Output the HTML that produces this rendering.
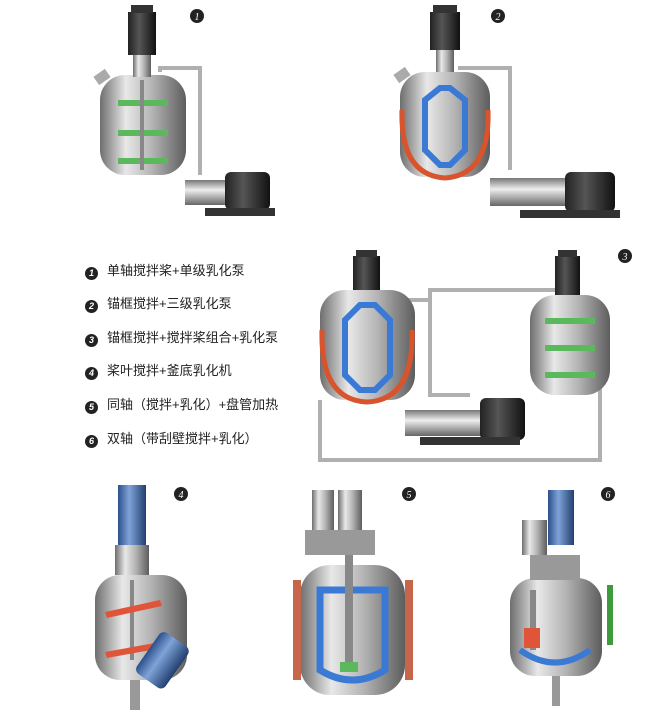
<!DOCTYPE html>
<html><head><meta charset="utf-8">
<style>
html,body{margin:0;padding:0;background:#fff;}
body{width:657px;height:727px;position:relative;overflow:hidden;font-family:"Liberation Sans","Noto Sans CJK SC",sans-serif;}
.lg{position:absolute;left:85px;font-size:13px;color:#222;height:16px;line-height:16px;}
.lg b{display:inline-block;width:13px;height:13px;border-radius:50%;background:#222;color:#fff;font-size:9px;font-style:italic;text-align:center;line-height:13px;margin-right:9px;vertical-align:-1px;}
</style></head><body>
<svg width="657" height="727" style="position:absolute;left:0;top:0">
<defs>
<linearGradient id="st" x1="0" x2="1"><stop offset="0" stop-color="#6e6e6e"/><stop offset=".3" stop-color="#e8e8e8"/><stop offset=".6" stop-color="#b5b5b5"/><stop offset="1" stop-color="#5d5d5d"/></linearGradient>
<linearGradient id="mt" x1="0" x2="1"><stop offset="0" stop-color="#222"/><stop offset=".4" stop-color="#555"/><stop offset="1" stop-color="#111"/></linearGradient>
<linearGradient id="bl" x1="0" x2="1"><stop offset="0" stop-color="#2b4f8a"/><stop offset=".4" stop-color="#7fa3d8"/><stop offset="1" stop-color="#223f70"/></linearGradient>
<linearGradient id="pp" y1="0" y2="1" x1="0" x2="0"><stop offset="0" stop-color="#777"/><stop offset=".4" stop-color="#eee"/><stop offset="1" stop-color="#666"/></linearGradient>
</defs>
<g fill="none" stroke="#b0b0b0" stroke-width="4">
<path d="M160 72 V68 H200 V175"/><path d="M460 70 V68 H510 V170"/>
<path d="M370 300 H430 V395 H470 M430 300 V290 H560 M320 400 V460 H600 V380"/>
</g>
<!-- tank 1 -->
<rect x="100" y="75" width="86" height="100" rx="25" fill="url(#st)"/>
<rect x="95" y="72" width="14" height="10" fill="#aaa" transform="rotate(-35 102 77)"/>
<rect x="128" y="12" width="28" height="43" fill="url(#mt)"/><rect x="131" y="5" width="22" height="8" fill="#333"/><rect x="133" y="55" width="18" height="22" fill="url(#st)"/>
<g fill="#5cb85c"><rect x="118" y="100" width="50" height="6"/><rect x="118" y="130" width="50" height="6"/><rect x="118" y="158" width="50" height="6"/></g>
<rect x="140" y="80" width="4" height="90" fill="#888"/>
<rect x="185" y="180" width="60" height="25" fill="url(#pp)"/><rect x="225" y="172" width="45" height="38" rx="6" fill="url(#mt)"/><rect x="205" y="208" width="70" height="8" fill="#333"/>
<!-- tank 2 -->
<rect x="400" y="72" width="90" height="105" rx="25" fill="url(#st)"/>
<rect x="395" y="70" width="14" height="10" fill="#aaa" transform="rotate(-35 402 75)"/>
<path d="M402 110 Q400 175 445 178 Q490 175 488 110" fill="none" stroke="#d9532c" stroke-width="5"/>
<rect x="430" y="12" width="30" height="38" fill="url(#mt)"/><rect x="433" y="5" width="24" height="8" fill="#333"/><rect x="436" y="50" width="18" height="22" fill="url(#st)"/>
<path d="M425 100 L440 88 H450 L465 100 V150 L450 165 H440 L425 150Z" fill="none" stroke="#3a7ad5" stroke-width="6"/>
<rect x="490" y="178" width="80" height="28" fill="url(#pp)"/><rect x="565" y="172" width="50" height="40" rx="6" fill="url(#mt)"/><rect x="520" y="210" width="100" height="8" fill="#333"/>
<!-- tank 3 left -->
<rect x="320" y="290" width="95" height="110" rx="25" fill="url(#st)"/>
<path d="M322 330 Q320 400 367 402 Q414 400 412 330" fill="none" stroke="#d9532c" stroke-width="5"/>
<rect x="353" y="256" width="27" height="34" fill="url(#mt)"/><rect x="356" y="250" width="21" height="7" fill="#333"/>
<path d="M345 320 L360 305 H375 L390 320 V375 L375 390 H360 L345 375Z" fill="none" stroke="#3a7ad5" stroke-width="6"/>
<!-- tank 3 right -->
<rect x="530" y="295" width="80" height="100" rx="25" fill="url(#st)"/>
<rect x="555" y="256" width="25" height="39" fill="url(#mt)"/><rect x="558" y="250" width="19" height="7" fill="#333"/>
<g fill="#5cb85c"><rect x="545" y="318" width="50" height="6"/><rect x="545" y="345" width="50" height="6"/><rect x="545" y="372" width="50" height="6"/></g>
<rect x="405" y="410" width="80" height="26" fill="url(#pp)"/><rect x="480" y="398" width="45" height="42" rx="6" fill="url(#mt)"/><rect x="420" y="437" width="100" height="8" fill="#333"/>
<!-- tank 4 -->
<rect x="95" y="575" width="92" height="105" rx="25" fill="url(#st)"/>
<rect x="118" y="485" width="28" height="60" fill="url(#bl)"/><rect x="115" y="545" width="34" height="30" fill="url(#st)"/>
<rect x="130" y="580" width="4" height="80" fill="#888"/>
<g fill="#e0553a"><path d="M105 612 L160 600 L162 606 L107 618Z"/><path d="M105 652 L160 642 L162 648 L107 658Z"/></g>
<rect x="145" y="635" width="35" height="50" rx="6" fill="url(#bl)" transform="rotate(35 162 660)"/>
<rect x="130" y="680" width="10" height="30" fill="#999"/>
<!-- tank 5 -->
<rect x="300" y="565" width="105" height="130" rx="30" fill="url(#st)"/>
<g fill="#c7664a"><rect x="293" y="580" width="8" height="100"/><rect x="405" y="580" width="8" height="100"/></g>
<rect x="312" y="490" width="22" height="40" fill="url(#st)"/><rect x="338" y="490" width="24" height="40" fill="url(#st)"/><rect x="305" y="530" width="70" height="25" fill="#999"/>
<path d="M320 590 H385 V670 Q352 690 320 670Z" fill="none" stroke="#3a7ad5" stroke-width="7"/>
<rect x="345" y="555" width="8" height="110" fill="#888"/><rect x="340" y="662" width="18" height="10" fill="#5cb85c"/>
<!-- tank 6 -->
<rect x="510" y="578" width="92" height="98" rx="25" fill="url(#st)"/>
<rect x="548" y="490" width="26" height="55" fill="url(#bl)"/><rect x="522" y="520" width="25" height="35" fill="url(#st)"/><rect x="530" y="555" width="50" height="25" fill="#999"/>
<path d="M520 650 Q555 675 590 650" fill="none" stroke="#3a7ad5" stroke-width="6"/>
<rect x="530" y="590" width="6" height="60" fill="#888"/><rect x="524" y="628" width="16" height="20" fill="#e0553a"/>
<rect x="607" y="585" width="6" height="60" fill="#3d9a3d"/>
<rect x="552" y="676" width="8" height="30" fill="#999"/>
<!-- numbers -->
<g fill="#222" font-size="10" font-style="italic" font-family="Liberation Serif,serif" text-anchor="middle">
<circle cx="197" cy="16" r="7"/><circle cx="498" cy="16" r="7"/><circle cx="625" cy="256" r="7"/><circle cx="181" cy="494" r="7"/><circle cx="409" cy="494" r="7"/><circle cx="608" cy="494" r="7"/>
<g fill="#fff"><text x="197" y="20">1</text><text x="498" y="20">2</text><text x="625" y="260">3</text><text x="181" y="498">4</text><text x="409" y="498">5</text><text x="608" y="498">6</text></g>
</g>
</svg>
<div class="lg" style="top:263px"><b>1</b>单轴搅拌桨+单级乳化泵</div>
<div class="lg" style="top:296px"><b>2</b>锚框搅拌+三级乳化泵</div>
<div class="lg" style="top:330px"><b>3</b>锚框搅拌+搅拌桨组合+乳化泵</div>
<div class="lg" style="top:363px"><b>4</b>桨叶搅拌+釜底乳化机</div>
<div class="lg" style="top:397px"><b>5</b>同轴（搅拌+乳化）+盘管加热</div>
<div class="lg" style="top:431px"><b>6</b>双轴（带刮壁搅拌+乳化）</div>
</body></html>
